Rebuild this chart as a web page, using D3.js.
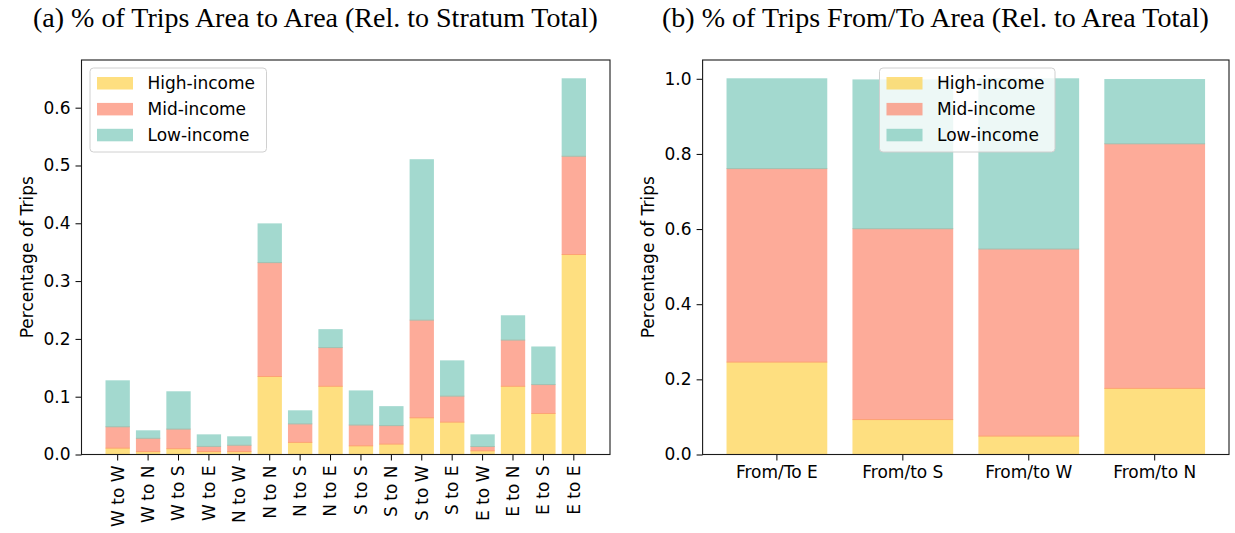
<!DOCTYPE html>
<html><head><meta charset="utf-8">
<script src="https://cdn.jsdelivr.net/npm/d3@7"></script>
<style>
html,body{margin:0;padding:0;background:#fff;}
svg{display:block;}
text{font-family:"DejaVu Sans",sans-serif;fill:#000;}
</style></head>
<body>
<svg id="chart" width="1235" height="533"></svg>
<script>
// ---------- data ----------
const seriesNames = ["High-income", "Mid-income", "Low-income"];

const leftCategories = ["W to W","W to N","W to S","W to E","N to W","N to N","N to S","N to E",
                        "S to S","S to N","S to W","S to E","E to W","E to N","E to S","E to E"];
const leftHigh = [0.011,0.005,0.010,0.005,0.005,0.135,0.021,0.118,0.015,0.018,0.0635,0.056,0.0064,0.118,0.071,0.346];
const leftMid  = [0.037,0.023,0.034,0.009,0.011,0.197,0.032,0.067,0.036,0.032,0.169,0.045,0.0074,0.080,0.050,0.170];
const leftLow  = [0.0795,0.013,0.0645,0.020,0.0146,0.067,0.0226,0.031,0.059,0.0328,0.2775,0.061,0.0202,0.042,0.065,0.134];
const leftTicks = [0, 0.1, 0.2, 0.3, 0.4, 0.5, 0.6];

const rightCategories = ["From/To E", "From/to S", "From/to W", "From/to N"];
const rightHigh = [0.246, 0.093, 0.049, 0.176];
const rightMid  = [0.515, 0.508, 0.498, 0.651];
const rightLow  = [0.239, 0.396, 0.453, 0.171];
const rightTicks = [0, 0.2, 0.4, 0.6, 0.8, 1.0];

const titles = ["(a) % of Trips Area to Area (Rel. to Stratum Total)",
                "(b) % of Trips From/To Area (Rel. to Area Total)"];
const yLabel = "Percentage of Trips";

// ---------- style ----------
const colors = ["#FED14A", "#FC876D", "#7CC9BA"];
const alpha = 0.7;
const FS = 17;

const svg = d3.select("#chart");

function panel(cfg) {
  const {left, right, top, bottom, cats, series, ticks, rotateLabels, legend, title} = cfg;
  const g = svg.append("g");
  const n = cats.length;
  const x = d3.scaleBand().domain(cats).range([left, right])
      .paddingInner(0.2).paddingOuter(0.05 * (n - 0.2)).align(0.5);
  const rows = cats.map((c, i) => {
    const o = {cat: c};
    seriesNames.forEach((s, k) => o[s] = series[k][i]);
    return o;
  });
  const stack = d3.stack().keys(seriesNames)(rows);
  const maxTot = d3.max(stack[stack.length - 1], d => d[1]);
  const y = d3.scaleLinear().domain([0, maxTot * 1.05]).range([bottom, top]);

  // bars
  stack.forEach((layer, k) => {
    g.append("g").selectAll("rect").data(layer).join("rect")
      .attr("x", d => x(d.data.cat))
      .attr("width", x.bandwidth())
      .attr("y", d => y(d[1]) - 0.5)
      .attr("height", d => Math.max(0, y(d[0]) - y(d[1]) + 1))
      .attr("fill", colors[k])
      .attr("fill-opacity", alpha);
  });

  // y axis
  const yAxis = d3.axisLeft(y).tickValues(ticks).tickFormat(d3.format(".1f")).tickSize(6).tickPadding(5);
  const ya = g.append("g").attr("transform", `translate(${left},0)`).call(yAxis);
  ya.select(".domain").remove();
  ya.selectAll("text").style("font-size", FS + "px").attr("font-family", "DejaVu Sans");
  ya.selectAll("line").attr("stroke", "#000").attr("stroke-width", 1);

  // x axis
  const xAxis = d3.axisBottom(x).tickSize(6).tickPadding(5);
  const xa = g.append("g").attr("transform", `translate(0,${bottom})`).call(xAxis);
  xa.select(".domain").remove();
  xa.selectAll("line").attr("stroke", "#000").attr("stroke-width", 1);
  xa.selectAll("text").style("font-size", FS + "px");
  if (rotateLabels) {
    xa.selectAll("text")
      .attr("transform", "rotate(-90)")
      .attr("text-anchor", "end")
      .attr("x", -11)
      .attr("y", 0)
      .attr("dy", "0.35em");
  } else {
    xa.selectAll("text").attr("dy", "0.76em").attr("y", 10.5);
  }

  // frame
  g.append("rect").attr("x", left).attr("y", top)
    .attr("width", right - left).attr("height", bottom - top)
    .attr("fill", "none").attr("stroke", "#1a1a1a").attr("stroke-width", 1.1);

  // y label
  g.append("text")
    .attr("transform", `translate(${cfg.ylabX},${(top + bottom) / 2}) rotate(-90)`)
    .attr("text-anchor", "middle").attr("dy", "0.35em")
    .style("font-size", FS + "px").text(yLabel);

  // legend
  const lg = g.append("g").attr("transform", `translate(${legend.x},${legend.y})`);
  lg.append("rect").attr("width", legend.w).attr("height", 84).attr("rx", 3.5)
    .attr("fill", "#fff").attr("fill-opacity", 0.8)
    .attr("stroke", "#d0d0d0").attr("stroke-width", 1);
  seriesNames.forEach((s, k) => {
    lg.append("rect").attr("x", 7).attr("y", 9 + k * 25.9).attr("width", 36).attr("height", 12.5)
      .attr("fill", colors[k]).attr("fill-opacity", alpha);
    lg.append("text").attr("x", 57.5).attr("y", 15.3 + k * 25.9).attr("dy", "0.35em")
      .style("font-size", FS + "px").text(s);
  });

  // title
  const t = svg.append("text").attr("x", title.x).attr("y", 27)
    .attr("font-family", "Liberation Serif").style("font-family", "'Liberation Serif', serif")
    .style("font-size", "20px").text(title.text);
  const w = t.node().getComputedTextLength();
  t.style("font-size", (20 * title.w / w).toFixed(2) + "px");
}

panel({left: 81.5, right: 610, top: 60, bottom: 454.5,
       cats: leftCategories, series: [leftHigh, leftMid, leftLow], ticks: leftTicks,
       rotateLabels: true, ylabX: 27,
       legend: {x: 90, y: 68, w: 176.5},
       title: {x: 33, w: 565, text: titles[0]}});

panel({left: 702.6, right: 1229, top: 60, bottom: 454.5,
       cats: rightCategories, series: [rightHigh, rightMid, rightLow], ticks: rightTicks,
       rotateLabels: false, ylabX: 648,
       legend: {x: 879.5, y: 68, w: 175.5},
       title: {x: 662, w: 547, text: titles[1]}});
</script>
</body></html>
